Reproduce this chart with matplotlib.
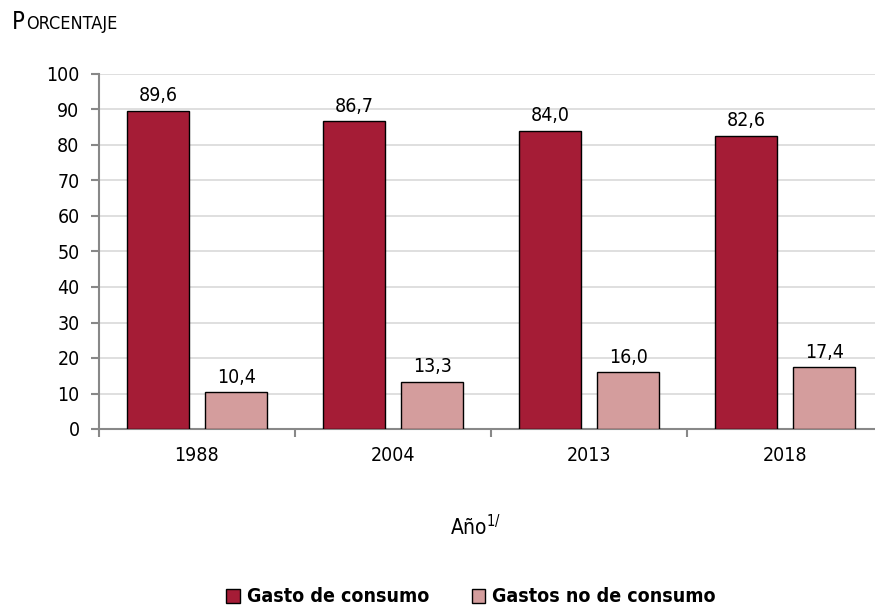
import matplotlib
matplotlib.use("Agg")
import matplotlib.pyplot as plt
import numpy as np
from matplotlib.patches import Patch

years = ["1988", "2004", "2013", "2018"]
gasto_consumo = [89.6, 86.7, 84.0, 82.6]
gasto_no_consumo = [10.4, 13.3, 16.0, 17.4]
series_names = ["Gasto de consumo", "Gastos no de consumo"]

RED = "#A51C36"
PINK = "#D49D9D"
plt.rcParams["font.family"] = ["DejaVu Sans"]
plt.rcParams["font.stretch"] = "condensed"

fig = plt.figure(figsize=(8.75, 6.12), dpi=100)
ax = fig.add_axes([99 / 875, 1 - 429 / 612, 784 / 875, 355 / 612])

x = np.arange(len(years))
w = 0.316
off = 0.2
b1 = ax.bar(x - off, gasto_consumo, w, color=RED, edgecolor="black", lw=1, zorder=3)
b2 = ax.bar(x + off, gasto_no_consumo, w, color=PINK, edgecolor="black", lw=1, zorder=3)

fmt = lambda v: f"{v:.1f}".replace(".", ",")
for bars, vals in ((b1, gasto_consumo), (b2, gasto_no_consumo)):
    ax.bar_label(bars, labels=[fmt(v) for v in vals], padding=4, fontsize=14)

ax.set_xlim(-0.5, len(years) - 0.5)
ax.set_ylim(0, 100)
ax.set_yticks(range(0, 101, 10))
ax.tick_params(axis="y", labelsize=14, length=6, color="#888888", width=1.5, pad=8)
ax.set_xticks(x)
ax.set_xticklabels(years)
ax.tick_params(axis="x", which="major", length=0, labelsize=14, pad=12)
ax.set_xticks(np.arange(len(years) + 1) - 0.5, minor=True)
ax.tick_params(axis="x", which="minor", length=6, color="#888888", width=1.5)

ax.grid(axis="y", color="#D9D9D9", lw=1.2, zorder=0)
ax.set_axisbelow(True)
for s in ("top", "right"):
    ax.spines[s].set_visible(False)
for s in ("left", "bottom"):
    ax.spines[s].set_color("#888888")
    ax.spines[s].set_linewidth(1.5)

fig.text(476 / 875, 1 - 527 / 612, "Año$^{1/}$", ha="center", va="center", fontsize=15)

# small caps title
fig.text(12 / 875, 1 - 29 / 612, "P", fontsize=17, va="baseline")
fig.text(26 / 875, 1 - 29 / 612, "ORCENTAJE", fontsize=13, va="baseline")

handles = [Patch(facecolor=RED, edgecolor="black"), Patch(facecolor=PINK, edgecolor="black")]
fig.legend(handles, series_names, loc="center", bbox_to_anchor=(471 / 875, 1 - 597 / 612),
           ncol=2, frameon=False, handlelength=0.7, handleheight=0.7, handletextpad=0.35,
           columnspacing=2.2, prop={"weight": "bold", "size": 14})

fig.savefig("out.png", dpi=100)
